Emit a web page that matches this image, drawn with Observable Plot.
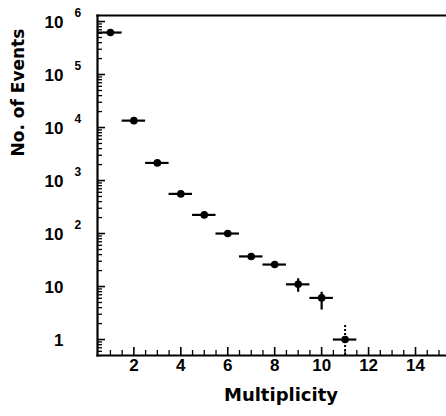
<!DOCTYPE html>
<html>
<head>
<meta charset="utf-8">
<script src="https://cdn.jsdelivr.net/npm/d3@7"></script>
<script src="https://cdn.jsdelivr.net/npm/@observablehq/plot@0.6"></script>
<style>
  html, body { margin: 0; padding: 0; background: #fff; }
</style>
</head>
<body>
<div id="chart"></div>
<script>
// ---- data ----
const multiplicity = [1, 2, 3, 4, 5, 6, 7, 8, 9, 10, 11];
const events       = [6.2e5, 1.35e4, 2150, 560, 225, 100, 37, 26, 11, 6.1, 1.0];
const errLow       = [6.0e5, 1.3e4, 2080, 540, 215, 95, 32, 22, 7.8, 3.6, 1.0];
const errHigh      = [6.4e5, 1.4e4, 2220, 580, 235, 105, 41, 29, 14, 7.8, 1.0];
const binHalfWidth = 0.5;
// the last point's vertical error is drawn dotted
const dottedX   = [11];
const dottedLow = [0.5];
const dottedHigh= [2.0];

const yMajorTicks = [1, 10, 100, 1e3, 1e4, 1e5, 1e6];
const yTickBase   = ["1", "10", "10", "10", "10", "10", "10"];
const yTickExp    = ["", "", "2", "3", "4", "5", "6"];
const xTickLabels = [2, 4, 6, 8, 10, 12, 14];
const xTitle = "Multiplicity";
const yTitle = "No. of Events";

// ---- derived tables ----
const points = multiplicity.map((m, i) => ({m, n: events[i], lo: errLow[i], hi: errHigh[i]}));
const dotted = dottedX.map((m, i) => ({m, lo: dottedLow[i], hi: dottedHigh[i]}));
const yMinor = [];
for (let e = -1; e <= 6; e++) for (let k = 2; k <= 9; k++) {
  const v = k * Math.pow(10, e);
  if (v >= 0.5 && v <= 1.3e6) yMinor.push(v);
}
const xMinor = d3.range(1, 15.01, 0.5).filter(v => v % 2 !== 0);
const xMajor = xTickLabels;
const yLabels = yMajorTicks.map((v, i) => ({v, base: yTickBase[i], exp: yTickExp[i]}));

const W = 446, H = 416, mL = 97, mR = 0, mT = 15, mB = 61;
const fw = W - mL - mR, fh = H - mT - mB;
const tickFont = "'Liberation Sans', Arial, sans-serif";
const titleFont = "'DejaVu Sans', sans-serif";

const chart = Plot.plot({
  width: W, height: H,
  marginLeft: mL, marginRight: mR, marginTop: mT, marginBottom: mB,
  style: {background: "#fff", color: "#000", overflow: "visible"},
  x: {domain: [0.45, 15.32], axis: null},
  y: {type: "log", domain: [0.5, 1.3e6], axis: null},
  marks: [
    // axes frame lines
    Plot.frame({anchor: "left", strokeWidth: 2.2}),
    Plot.frame({anchor: "bottom", strokeWidth: 2.2}),
    Plot.frame({anchor: "top", strokeWidth: 2.2}),
    // y ticks (inside)
    Plot.tickY(yMajorTicks, {y: d => d, insetRight: fw - 8, strokeWidth: 1.6, stroke: "#000"}),
    Plot.tickY(yMinor, {y: d => d, insetRight: fw - 5, strokeWidth: 1.3, stroke: "#000"}),
    // x ticks (inside)
    Plot.tickX(xMajor, {x: d => d, insetTop: fh - 8, strokeWidth: 1.6, stroke: "#000"}),
    Plot.tickX(xMinor, {x: d => d, insetTop: fh - 5, strokeWidth: 1.3, stroke: "#000"}),
    // y tick labels
    Plot.text(yLabels, {y: "v", text: "base", frameAnchor: "left", dx: -34, dy: 1, textAnchor: "end",
      fontFamily: tickFont, fontWeight: "bold", fontSize: 17, fill: "#000"}),
    Plot.text(yLabels, {y: "v", text: "exp", frameAnchor: "left", dx: -23, dy: -8, textAnchor: "start",
      fontFamily: tickFont, fontWeight: "bold", fontSize: 12, fill: "#000"}),
    // x tick labels
    Plot.text(xTickLabels, {x: d => d, text: d => String(d), frameAnchor: "bottom", dy: 15,
      fontFamily: tickFont, fontWeight: "bold", fontSize: 17, fill: "#000"}),
    // titles
    Plot.text([xTitle], {text: d => d, frameAnchor: "bottom", dx: 9, dy: 45,
      fontFamily: titleFont, fontWeight: "bold", fontSize: 18, fill: "#000"}),
    Plot.text([yTitle], {text: d => d, frameAnchor: "left", dx: -79, dy: -29, rotate: -90,
      fontFamily: titleFont, fontWeight: "bold", fontSize: 17, fill: "#000"}),
    // error bars
    Plot.ruleY(points, {y: "n", x1: d => d.m - binHalfWidth, x2: d => d.m + binHalfWidth, strokeWidth: 2.2}),
    Plot.ruleX(points, {x: "m", y1: "lo", y2: "hi", strokeWidth: 2.2}),
    Plot.ruleX(dotted, {x: "m", y1: "lo", y2: "hi", strokeWidth: 2, strokeDasharray: "2,2"}),
    Plot.dot(points, {x: "m", y: "n", r: 3.8, fill: "#000", stroke: "none"})
  ]
});
document.getElementById("chart").appendChild(chart);
</script>
</body>
</html>
